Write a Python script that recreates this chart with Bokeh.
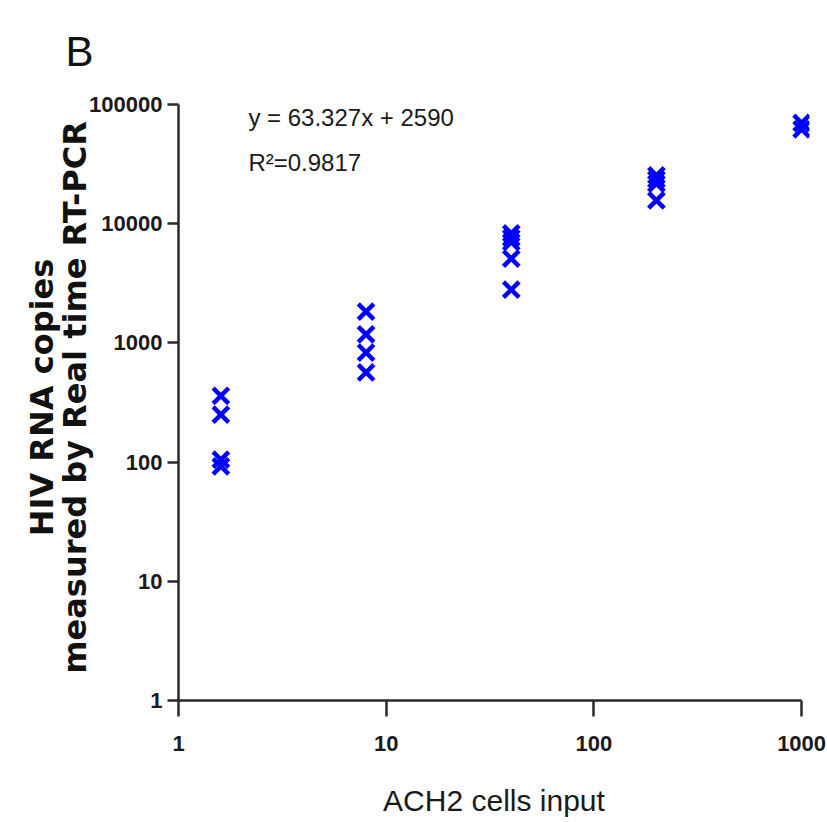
from bokeh.plotting import figure
from bokeh.models import Range1d, FixedTicker, Label
from bokeh.embed import file_html
from bokeh.resources import INLINE

# Data
cells_input = [1.6, 8, 40, 200, 1000]
rna_copies = [
    [360, 250, 105, 92],
    [1830, 1180, 830, 565],
    [8300, 7600, 7000, 5100, 2800],
    [25400, 23500, 21700, 15700],
    [70000, 62000],
]
x_ticks = [1, 10, 100, 1000]
y_ticks = [1, 10, 100, 1000, 10000, 100000]
equation_text = "y = 63.327x + 2590"
r2_text = "R\u00b2=0.9817"
panel_letter = "B"

xs, ys = [], []
for xv, vals in zip(cells_input, rna_copies):
    for v in vals:
        xs.append(xv)
        ys.append(v)

SANS = "Liberation Sans"

p = figure(width=827, height=822, output_backend="svg", toolbar_location=None,
           x_axis_type="log", y_axis_type="log",
           x_range=Range1d(1, 10 ** 3.038), y_range=Range1d(1, 10 ** 5.084),
           min_border_left=178, min_border_right=18, min_border_top=94, min_border_bottom=122)
p.outline_line_color = None
p.grid.grid_line_color = None
p.background_fill_color = "white"
p.border_fill_color = "white"

p.scatter(xs, ys, marker="x", size=22, line_width=4.5, line_color="#0000ff")

for ax in (p.xaxis[0], p.yaxis[0]):
    ax.axis_line_width = 2.5
    ax.axis_line_color = "#2a2a2a"
    ax.major_tick_line_width = 2.5
    ax.major_tick_line_color = "#2a2a2a"
    ax.major_tick_in = 0
    ax.minor_tick_line_color = None
    ax.major_label_text_font = SANS
    ax.major_label_text_font_style = "bold"
    ax.major_label_text_font_size = "22px"
    ax.major_label_text_color = "#1a1a1a"

p.xaxis.ticker = FixedTicker(ticks=x_ticks)
p.yaxis.ticker = FixedTicker(ticks=y_ticks)
p.xaxis.major_label_overrides = {t: str(t) for t in x_ticks}
p.yaxis.major_label_overrides = {t: str(t) for t in y_ticks}
p.xaxis.bounds = (1, 1000)
p.yaxis.bounds = (1, 100000)
p.xaxis.major_tick_out = 16
p.yaxis.major_tick_out = 11
p.xaxis.major_label_standoff = 19
p.yaxis.major_label_standoff = 5

p.xaxis.axis_label = "ACH2 cells input"
p.xaxis.axis_label_text_font = SANS
p.xaxis.axis_label_text_font_style = "normal"
p.xaxis.axis_label_text_font_size = "30px"
p.xaxis.axis_label_text_color = "#1a1a1a"
p.xaxis.axis_label_standoff = 30

p.yaxis.axis_label = "HIV RNA copies\nmeasured by Real time RT-PCR"
p.yaxis.axis_label_text_font = "DejaVu Sans"
p.yaxis.axis_label_text_font_style = "bold"
p.yaxis.axis_label_text_font_size = "32px"
p.yaxis.axis_label_text_color = "#111111"
p.yaxis.axis_label_text_line_height = 0.88
p.yaxis.axis_label_standoff = -8

p.title.text = panel_letter
p.title.text_font = SANS
p.title.text_font_size = "42px"
p.title.text_font_style = "normal"
p.title.text_color = "#111111"
p.title.align = "left"
p.title.offset = -113
p.title.standoff = 40

p.add_layout(Label(x=2.17, y=77800, text=equation_text, text_font=SANS,
                   text_font_size="24px", text_baseline="middle", text_color="#1a1a1a"))
p.add_layout(Label(x=2.17, y=32600, text=r2_text, text_font=SANS,
                   text_font_size="24px", text_baseline="middle", text_color="#1a1a1a"))

open("out.html", "w").write(file_html(p, INLINE))
